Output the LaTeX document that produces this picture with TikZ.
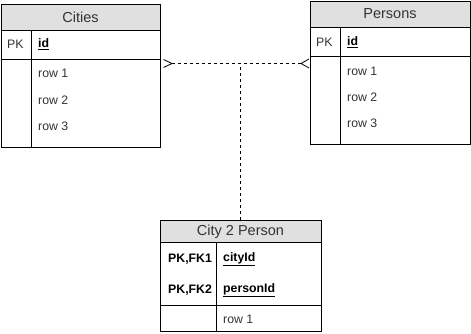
\documentclass[tikz,border=0pt]{standalone}
\usepackage{fontspec}
\setmainfont{Liberation Sans}
\definecolor{headfill}{HTML}{E0E0E0}
\definecolor{txt}{HTML}{333333}
\begin{document}
\begin{tikzpicture}[x=1pt,y=-1pt,
  box/.style={draw=black,line width=0.8pt,inner sep=0pt},
  sep/.style={draw=black,line width=0.8pt},
  title/.style={font=\fontsize{14.5}{16}\selectfont,text=txt,inner sep=0pt},
  cell/.style={font=\fontsize{12.3}{14}\selectfont,text=txt,anchor=west,inner sep=0pt},
  key/.style={font=\fontsize{12.3}{14}\selectfont\bfseries,text=black,anchor=west,inner sep=0pt},
  link/.style={draw=black,line width=0.8pt,dash pattern=on 3pt off 3pt},
  foot/.style={draw=black,line width=0.8pt}]
\useasboundingbox (0,0) rectangle (471,334);

% Cities table
\fill[headfill] (1,4) rectangle (160,30);
\node[box,minimum width=159pt,minimum height=143pt] (cities) at (80.5,75.5) {};
\draw[sep] (1,30) -- (160,30);
\draw[sep] (1,59) -- (160,59);
\draw[sep] (31,30) -- (31,147);
\node[title] (citiesT) at (80.5,17) {Cities};
\node[cell] (citiesPK) at (7,44.5) {PK};
\node[key] (citiesId) at (38,44.5) {\underline{id}};
\node[cell] (citiesR1) at (38,73) {row 1};
\node[cell] (citiesR2) at (38,100) {row 2};
\node[cell] (citiesR3) at (38,126) {row 3};

% Persons table
\fill[headfill] (310,1) rectangle (470,27);
\node[box,minimum width=160pt,minimum height=143pt] (persons) at (390,72.5) {};
\draw[sep] (310,27) -- (470,27);
\draw[sep] (310,56) -- (470,56);
\draw[sep] (340,27) -- (340,144);
\node[title] (personsT) at (390,14) {Persons};
\node[cell] (personsPK) at (316,42) {PK};
\node[key] (personsId) at (347,42) {\underline{id}};
\node[cell] (personsR1) at (347,71) {row 1};
\node[cell] (personsR2) at (347,97) {row 2};
\node[cell] (personsR3) at (347,123) {row 3};

% City 2 Person table
\fill[headfill] (160,220) rectangle (321,242);
\node[box,minimum width=161pt,minimum height=111pt] (c2p) at (240.5,275.5) {};
\draw[sep] (160,242) -- (321,242);
\draw[sep] (160,305) -- (321,305);
\draw[sep] (216,242) -- (216,331);
\node[title] (c2pT) at (240.5,232) {City 2 Person};
\node[key] (c2pK1) at (168,259) {PK,FK1};
\node[key] (c2pK2) at (168,290) {PK,FK2};
\node[key] (c2pCity) at (223,259) {\underline{cityId}};
\node[key] (c2pPerson) at (223,290) {\underline{personId}};
\node[cell] (c2pR1) at (223,319) {row 1};

% relationship lines with crow's feet at both tables
\coordinate (cf) at (172,63.5);
\coordinate (pf) at (301,63.5);
\coordinate (j) at (c2p.north |- cf);
\draw[foot] (163.5,59.5) -- (cf) -- (163.5,67.5);
\draw[foot] (309,59) -- (pf) -- (309,68);
\draw[link] (cf) -- (pf);
\draw[link] (c2p.north) -- (j);
\end{tikzpicture}
\end{document}
